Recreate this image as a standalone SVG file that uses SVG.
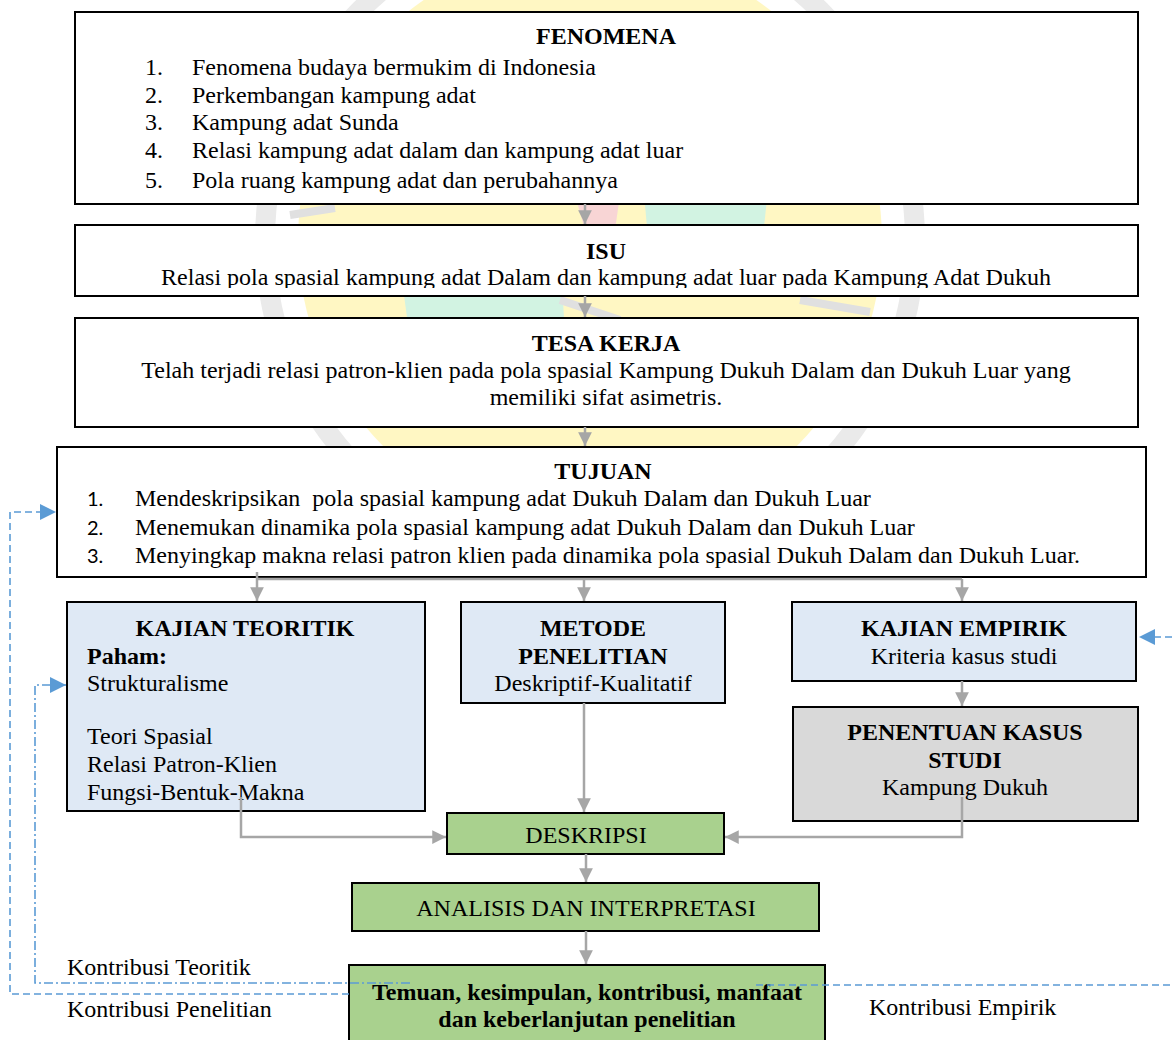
<svg xmlns="http://www.w3.org/2000/svg" width="1172" height="1040" viewBox="0 0 1172 1040">
<style>
.t{font-family:"Liberation Serif","Times New Roman",serif;font-size:24px;fill:#000}
.b{font-weight:bold}
.c{text-anchor:middle}
.n{font-family:Lato,"Liberation Sans",sans-serif;font-size:20px;fill:#000}
.box{fill:#fff;stroke:#000;stroke-width:2}
.blue{fill:#dfe9f5;stroke:#000;stroke-width:2}
.grey{fill:#d9d9d9;stroke:#000;stroke-width:2}
.green{fill:#a9d18e;stroke:#000;stroke-width:2}
.con{fill:none;stroke:#a6a6a6;stroke-width:2.5}
.dash{fill:none;stroke:#5b9bd5;stroke-width:1.6;stroke-dasharray:7 4}
.dashdot{fill:none;stroke:#5b9bd5;stroke-width:1.6;stroke-dasharray:9 3 2 3}
</style>
<defs>
<marker id="ga" viewBox="0 0 10 10" refX="10" refY="5" markerWidth="5.5" markerHeight="5.5" orient="auto" markerUnits="strokeWidth"><path d="M0,0 L10,5 L0,10 z" fill="#a6a6a6"/></marker>
<marker id="ba" viewBox="0 0 10 10" refX="10" refY="5" markerWidth="10" markerHeight="10" orient="auto" markerUnits="strokeWidth"><path d="M0,0 L10,5 L0,10 z" fill="#5b9bd5"/></marker>
<clipPath id="clipIsu"><rect x="76" y="226" width="1061" height="62"/></clipPath>
<clipPath id="clipKT"><rect x="68" y="603" width="356" height="203"/></clipPath>
</defs>
<rect width="1172" height="1040" fill="#fff"/>
<g id="watermark" opacity="0.75">
<circle cx="590" cy="240" r="325" fill="none" stroke="#e3e3e3" stroke-width="20"/>
<circle cx="590" cy="240" r="292" fill="#fff5b0"/>
<polygon points="640,150 770,170 760,265 650,260" fill="#c4efd9"/>
<polygon points="400,265 560,250 565,335 410,340" fill="#c4efd9"/>
<polygon points="575,195 620,195 615,230 585,230" fill="#f6c8c8"/>
<path d="M290,215 L335,208 M560,300 L620,320 M800,300 L870,312" stroke="#d6d6d6" stroke-width="8" fill="none"/>
</g>
<g id="fenomena">
<rect class="box" x="75" y="12" width="1063" height="192"/>
<text class="t b c" x="606" y="44">FENOMENA</text>
<text class="t" x="145" y="75">1.</text><text class="t" x="192" y="75">Fenomena budaya bermukim di Indonesia</text>
<text class="t" x="145" y="103">2.</text><text class="t" x="192" y="103">Perkembangan kampung adat</text>
<text class="t" x="145" y="130">3.</text><text class="t" x="192" y="130">Kampung adat Sunda</text>
<text class="t" x="145" y="158">4.</text><text class="t" x="192" y="158">Relasi kampung adat dalam dan kampung adat luar</text>
<text class="t" x="145" y="188">5.</text><text class="t" x="192" y="188">Pola ruang kampung adat dan perubahannya</text>
</g>
<g id="isu">
<rect class="box" x="75" y="225" width="1063" height="71"/>
<text class="t b c" x="606" y="259">ISU</text>
<text class="t c" x="606" y="285" clip-path="url(#clipIsu)">Relasi pola spasial kampung adat Dalam dan kampung adat luar pada Kampung Adat Dukuh</text>
</g>
<g id="tesa">
<rect class="box" x="75" y="318" width="1063" height="109"/>
<text class="t b c" x="606" y="351">TESA KERJA</text>
<text class="t c" x="606" y="378">Telah terjadi relasi patron-klien pada pola spasial Kampung Dukuh Dalam dan Dukuh Luar yang</text>
<text class="t c" x="606" y="405">memiliki sifat asimetris.</text>
</g>
<g id="tujuan">
<rect class="box" x="57" y="447" width="1089" height="130"/>
<text class="t b c" x="603" y="479">TUJUAN</text>
<text class="n" x="87" y="506">1.</text><text class="t" x="135" y="506" xml:space="preserve">Mendeskripsikan  pola spasial kampung adat Dukuh Dalam dan Dukuh Luar</text>
<text class="n" x="87" y="535">2.</text><text class="t" x="135" y="535">Menemukan dinamika pola spasial kampung adat Dukuh Dalam dan Dukuh Luar</text>
<text class="n" x="87" y="563">3.</text><text class="t" x="135" y="563">Menyingkap makna relasi patron klien pada dinamika pola spasial Dukuh Dalam dan Dukuh Luar.</text>
</g>
<g id="kajian-teoritik">
<rect class="blue" x="67" y="602" width="358" height="209"/>
<text class="t b c" x="245" y="636">KAJIAN TEORITIK</text>
<text class="t b" x="87" y="664">Paham:</text>
<text class="t" x="87" y="691">Strukturalisme</text>
<text class="t" x="87" y="744">Teori Spasial</text>
<text class="t" x="87" y="772">Relasi Patron-Klien</text>
<text class="t" x="87" y="800" clip-path="url(#clipKT)">Fungsi-Bentuk-Makna</text>
</g>
<g id="metode">
<rect class="blue" x="461" y="602" width="264" height="101"/>
<text class="t b c" x="593" y="636">METODE</text>
<text class="t b c" x="593" y="664">PENELITIAN</text>
<text class="t c" x="593" y="691">Deskriptif-Kualitatif</text>
</g>
<g id="kajian-empirik">
<rect class="blue" x="792" y="602" width="344" height="79"/>
<text class="t b c" x="964" y="636">KAJIAN EMPIRIK</text>
<text class="t c" x="964" y="664">Kriteria kasus studi</text>
</g>
<g id="penentuan">
<rect class="grey" x="793" y="707" width="345" height="114"/>
<text class="t b c" x="965" y="740">PENENTUAN KASUS</text>
<text class="t b c" x="965" y="768">STUDI</text>
<text class="t c" x="965" y="795">Kampung Dukuh</text>
</g>
<g id="deskripsi">
<rect class="green" x="447" y="813" width="277" height="41"/>
<text class="t c" x="586" y="843">DESKRIPSI</text>
</g>
<g id="analisis">
<rect class="green" x="352" y="883" width="467" height="48"/>
<text class="t c" x="586" y="916">ANALISIS DAN INTERPRETASI</text>
</g>
<g id="temuan">
<rect class="green" x="349" y="965" width="476" height="85"/>
<text class="t b c" x="587" y="1000">Temuan, kesimpulan, kontribusi, manfaat</text>
<text class="t b c" x="587" y="1027">dan keberlanjutan penelitian</text>
</g>
<g id="connectors">
<path class="con" d="M585,204 V224" marker-end="url(#ga)"/>
<path class="con" d="M585,296 V317" marker-end="url(#ga)"/>
<path class="con" d="M585,427 V446" marker-end="url(#ga)"/>
<path class="con" d="M257,579 H962"/>
<path class="con" d="M257,572 V601" marker-end="url(#ga)"/>
<path class="con" d="M584,579 V601" marker-end="url(#ga)"/>
<path class="con" d="M962,579 V601" marker-end="url(#ga)"/>
<path class="con" d="M962,681 V706" marker-end="url(#ga)"/>
<path class="con" d="M241,797 V837 H446" marker-end="url(#ga)"/>
<path class="con" d="M584,703 V812" marker-end="url(#ga)"/>
<path class="con" d="M962,797 V837 H725" marker-end="url(#ga)"/>
<path class="con" d="M586,854 V882" marker-end="url(#ga)"/>
<path class="con" d="M586,931 V964" marker-end="url(#ga)"/>
<path class="dash" d="M349,994 H10 V512 H56" marker-end="url(#ba)"/>
<path class="dashdot" d="M410,983 H35 V685 H66" marker-end="url(#ba)"/>
<path class="dash" d="M756,985 H1172"/>
<path class="dash" d="M1172,637 H1139" marker-end="url(#ba)"/>
</g>
<g id="labels">
<text class="t" x="67" y="975">Kontribusi Teoritik</text>
<text class="t" x="67" y="1017">Kontribusi Penelitian</text>
<text class="t" x="869" y="1015">Kontribusi Empirik</text>
</g>
</svg>
